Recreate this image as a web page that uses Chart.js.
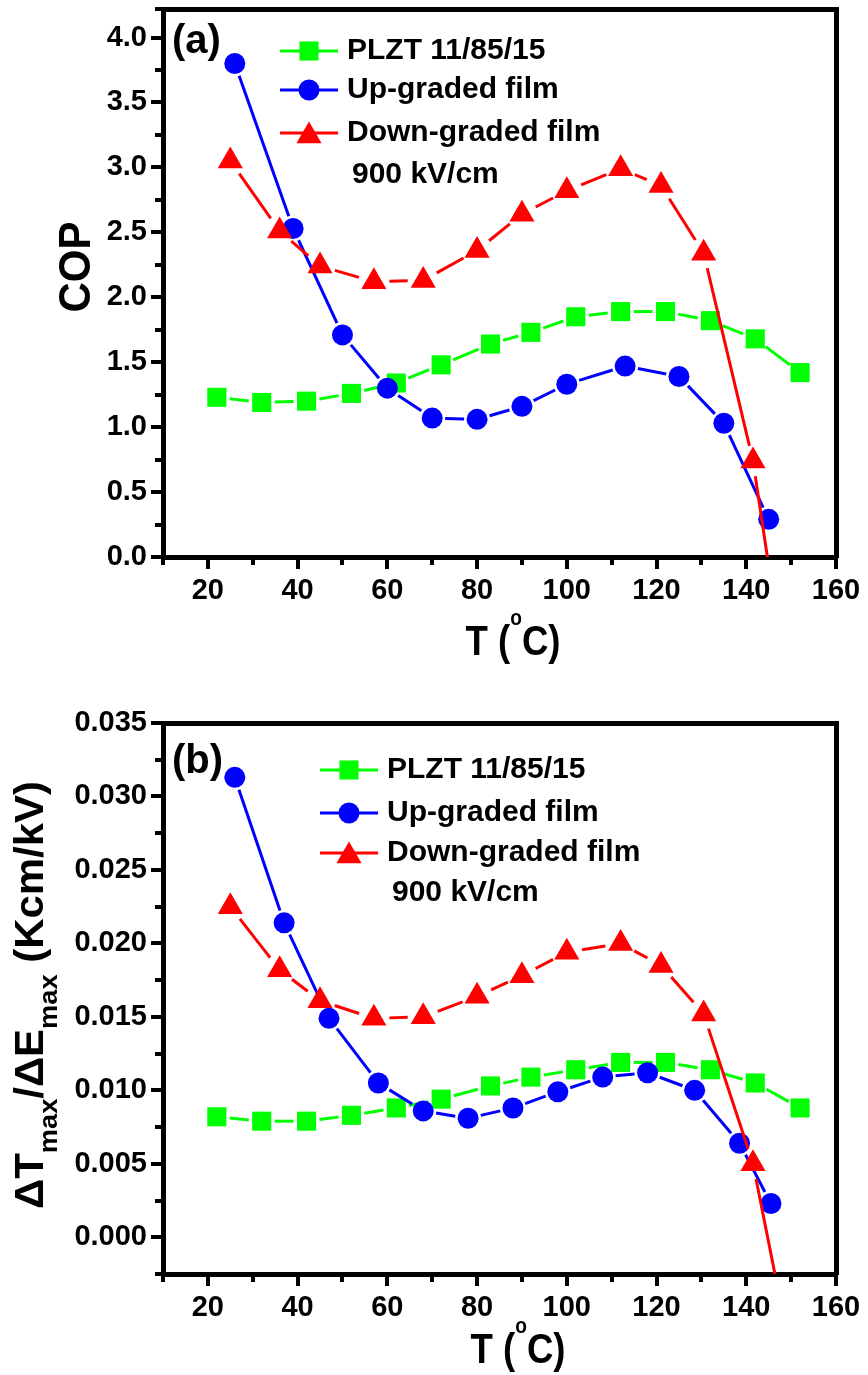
<!DOCTYPE html>
<html>
<head>
<meta charset="utf-8">
<script src="https://cdn.jsdelivr.net/npm/chart.js@4.4.1/dist/chart.umd.min.js"></script>
<style>
  html, body { margin: 0; padding: 0; background: #fff; }
  #wrap { position: relative; width: 868px; height: 1375px; }
  canvas { position: absolute; left: 0; }
  #chartA { top: 0; }
  #chartB { top: 680px; }
</style>
</head>
<body>
<div id="wrap">
  <canvas id="chartA" width="868" height="680"></canvas>
  <canvas id="chartB" width="868" height="695"></canvas>
</div>
<script>
// Data (T in degC)
const seriesLabels = ['PLZT 11/85/15', 'Up-graded film', 'Down-graded film'];
const fieldNote = '900 kV/cm';

// (a) COP
const tempPlzt = [22, 32, 42, 52, 62, 72, 83, 92, 102, 112, 122, 132, 142, 152];
const copPlzt = [1.23, 1.19, 1.20, 1.26, 1.34, 1.48, 1.64, 1.73, 1.85, 1.89, 1.89, 1.82, 1.68, 1.42];
const tempUpA = [26, 39, 50, 60, 70, 80, 90, 100, 113, 125, 135, 145];
const copUp = [3.80, 2.53, 1.71, 1.30, 1.07, 1.06, 1.16, 1.33, 1.47, 1.39, 1.03, 0.29];
const tempDown = [25, 36, 45, 57, 68, 80, 90, 100, 112, 121, 130.5, 141.5, 147];
const copDown = [3.05, 2.51, 2.24, 2.12, 2.13, 2.36, 2.64, 2.82, 2.99, 2.86, 2.34, 0.74, -0.53];

// (b) dTmax/dEmax (K cm/kV)
const tempUpB = [26, 37, 47, 58, 68, 78, 88, 98, 108, 118, 128.5, 138.5, 145.5];
const ecePlzt = [0.0082, 0.0079, 0.0079, 0.0083, 0.0088, 0.0094, 0.0103, 0.0109, 0.0114, 0.0119, 0.0119, 0.0114, 0.0105, 0.0088];
const eceUp = [0.0313, 0.0214, 0.0149, 0.0105, 0.0086, 0.0081, 0.0088, 0.0099, 0.0109, 0.0112, 0.0100, 0.0064, 0.0023];
const tempDownB = [25, 36, 45, 57, 68, 80, 90, 100, 112, 121, 130.5, 141.5, 147.5];
const eceDown = [0.0225, 0.0182, 0.0161, 0.0149, 0.0150, 0.0164, 0.0178, 0.0194, 0.0200, 0.0185, 0.0152, 0.0050, -0.0042];

const FONT = '"Liberation Sans", Arial, Helvetica, sans-serif';
const GREEN = '#00ff00', BLUE = '#0000ff', RED = '#ff0000';
const R_SQ = 13.5, R_CI = 10.5, R_TRI = 14.5;

function pts(xs, ys) {
  return xs.map((x, i) => ({ x: x, y: ys[i] }));
}

// origin-style: cut the line short near every symbol
function gapDash(gap) {
  return function (ctx) {
    const a = ctx.p0, b = ctx.p1;
    const len = Math.hypot(b.x - a.x, b.y - a.y);
    const tail = 5000 + ctx.p0DataIndex;
    if (len <= 2 * gap) return [0, len + tail];
    return [0, gap, len - 2 * gap, tail];
  };
}

function series(label, data, color, style, radius, gap, order) {
  return {
    label: label,
    data: data,
    borderColor: color,
    backgroundColor: color,
    borderWidth: 3,
    tension: 0,
    pointStyle: style,
    pointRadius: radius,
    pointHoverRadius: radius,
    pointBorderWidth: 0,
    pointBackgroundColor: color,
    order: order,
    segment: { borderDash: gapDash(gap) },
  };
}

function makeScales(yMin, yMax, yStep, yMinorStep, yFmt, xHeight) {
  const tickFont = { family: FONT, size: 29, weight: 'bold' };
  const majorGrid = { drawOnChartArea: false, drawTicks: true, tickLength: 12, tickWidth: 4, tickColor: '#000', color: '#000', lineWidth: 4 };
  const minorGrid = { drawOnChartArea: false, drawTicks: true, tickLength: 8, tickWidth: 4, tickColor: '#000', color: '#000', lineWidth: 4 };
  const frame = { display: true, color: '#000', width: 5 };
  return {
    x: {
      type: 'linear', position: 'bottom', min: 10, max: 160, weight: 1,
      ticks: { stepSize: 20, includeBounds: false, autoSkip: false, maxRotation: 0, padding: 5, color: '#000', font: tickFont },
      grid: majorGrid, border: frame,
      afterFit: (s) => { s.height = xHeight; s.paddingLeft = 0; s.paddingRight = 0; },
    },
    xMinor: {
      type: 'linear', position: 'bottom', min: 10, max: 160, weight: 0,
      ticks: { stepSize: 10, display: false },
      grid: minorGrid, border: { display: false },
      afterFit: (s) => { s.height = 0; s.paddingLeft = 0; s.paddingRight = 0; },
    },
    xTop: {
      type: 'linear', position: 'top', min: 10, max: 160,
      ticks: { display: false },
      grid: { drawOnChartArea: false, drawTicks: false }, border: frame,
      afterFit: (s) => { s.height = 0; s.paddingLeft = 0; s.paddingRight = 0; },
    },
    y: {
      type: 'linear', position: 'left', min: yMin, max: yMax, weight: 1,
      ticks: { stepSize: yStep, includeBounds: false, autoSkip: false, padding: 4, color: '#000', font: tickFont, callback: yFmt },
      grid: majorGrid, border: frame,
      afterFit: (s) => { s.width = 163; s.paddingTop = 0; s.paddingBottom = 0; },
    },
    yMinor: {
      type: 'linear', position: 'left', min: yMin, max: yMax, weight: 0,
      ticks: { stepSize: yMinorStep, display: false },
      grid: minorGrid, border: { display: false },
      afterFit: (s) => { s.width = 0; s.paddingTop = 0; s.paddingBottom = 0; },
    },
    yRight: {
      type: 'linear', position: 'right', min: yMin, max: yMax,
      ticks: { display: false },
      grid: { drawOnChartArea: false, drawTicks: false }, border: frame,
      afterFit: (s) => { s.width = 0; s.paddingTop = 0; s.paddingBottom = 0; },
    },
  };
}

function drawSymbol(ctx, style, x, y, r, color) {
  ctx.fillStyle = color;
  ctx.beginPath();
  if (style === 'rect') {
    const h = r * Math.SQRT1_2;
    ctx.rect(x - h, y - h, 2 * h, 2 * h);
  } else if (style === 'circle') {
    ctx.arc(x, y, r, 0, Math.PI * 2);
  } else {
    ctx.moveTo(x, y - r);
    ctx.lineTo(x + r * 0.866, y + r / 2);
    ctx.lineTo(x - r * 0.866, y + r / 2);
    ctx.closePath();
  }
  ctx.fill();
}

// pieces: [text, size, baseline shift]; fitted to a given length
function drawPieces(ctx, pieces, len) {
  let total = 0;
  pieces.forEach((p) => {
    ctx.font = 'bold ' + p[1] + 'px ' + FONT;
    total += ctx.measureText(p[0]).width;
  });
  ctx.scale(len / total, 1);
  let x = -total / 2;
  pieces.forEach((p) => {
    ctx.font = 'bold ' + p[1] + 'px ' + FONT;
    ctx.fillText(p[0], x, p[2]);
    x += ctx.measureText(p[0]).width;
  });
}

function decorations(opt) {
  return {
    id: 'decor',
    afterDraw(chart) {
      const ctx = chart.ctx;
      ctx.save();
      ctx.fillStyle = '#000';
      ctx.textAlign = 'left';
      ctx.textBaseline = 'middle';

      // panel tag
      ctx.font = 'bold 40px ' + FONT;
      ctx.fillText(opt.tag, 172, opt.tagY);

      // legend
      const sym = [['rect', R_SQ, GREEN], ['circle', R_CI, BLUE], ['triangle', R_TRI, RED]];
      sym.forEach((s, i) => {
        const y = opt.legY[i];
        ctx.strokeStyle = s[2];
        ctx.lineWidth = 3;
        ctx.beginPath();
        ctx.moveTo(opt.legX, y);
        ctx.lineTo(opt.legX + 58, y);
        ctx.stroke();
        drawSymbol(ctx, s[0], opt.legX + 29, s[0] === 'triangle' ? y + 3 : y, s[1], s[2]);
        ctx.fillStyle = '#000';
        ctx.font = 'bold 30px ' + FONT;
        ctx.fillText(seriesLabels[i], opt.legX + 67, y);
      });
      ctx.fillText(fieldNote, opt.legX + 72, opt.noteY);

      // x title
      ctx.textBaseline = 'alphabetic';
      ctx.save();
      ctx.translate(opt.xTitle[0], opt.xTitle[1]);
      drawPieces(ctx, [['T (', 42, 0], ['o', 22, -30], ['C)', 42, 0]], 95);
      ctx.restore();

      // y title
      ctx.save();
      ctx.translate(opt.yTitle[0], opt.yTitle[1]);
      ctx.rotate(-Math.PI / 2);
      drawPieces(ctx, opt.yPieces, opt.yTitle[2]);
      ctx.restore();

      ctx.restore();
    },
  };
}

function makeChart(id, datasets, scales, pad, opt) {
  return new Chart(document.getElementById(id), {
    type: 'line',
    data: { datasets: datasets },
    options: {
      responsive: false,
      animation: false,
      devicePixelRatio: 1,
      layout: { padding: pad, autoPadding: false },
      plugins: { legend: { display: false }, tooltip: { enabled: false } },
      scales: scales,
    },
    plugins: [decorations(opt)],
  });
}

makeChart('chartA', [
  series(seriesLabels[0], pts(tempPlzt, copPlzt), GREEN, 'rect', R_SQ, 13, 2),
  series(seriesLabels[1], pts(tempUpA, copUp), BLUE, 'circle', R_CI, 13, 1),
  series(seriesLabels[2], pts(tempDown, copDown), RED, 'triangle', R_TRI, 15.5, 0),
], makeScales(0, 4.22, 0.5, 0.25, (v) => v.toFixed(1), 123),
  { left: 0, top: 9, right: 32, bottom: 0 },
  {
    tag: '(a)', tagY: 42, legX: 280, legY: [51, 90, 133], noteY: 175,
    xTitle: [513, 655], yTitle: [90, 267, 91],
    yPieces: [['COP', 44, 0]],
  });

makeChart('chartB', [
  series(seriesLabels[0], pts(tempPlzt, ecePlzt), GREEN, 'rect', R_SQ, 13, 2),
  series(seriesLabels[1], pts(tempUpB, eceUp), BLUE, 'circle', R_CI, 13, 1),
  series(seriesLabels[2], pts(tempDownB, eceDown), RED, 'triangle', R_TRI, 15.5, 0),
], makeScales(-0.0025, 0.035, 0.005, 0.0025, (v) => v.toFixed(3), 101),
  { left: 0, top: 43, right: 32, bottom: 0 },
  {
    tag: '(b)', tagY: 82, legX: 320, legY: [90, 133, 173], noteY: 213,
    xTitle: [518, 683], yTitle: [43, 315, 428],
    yPieces: [['\u0394T', 40, 0], ['max', 26, 14], ['/\u0394E', 40, 0], ['max', 26, 14], [' (Kcm/kV)', 40, 0]],
  });
</script>
</body>
</html>
